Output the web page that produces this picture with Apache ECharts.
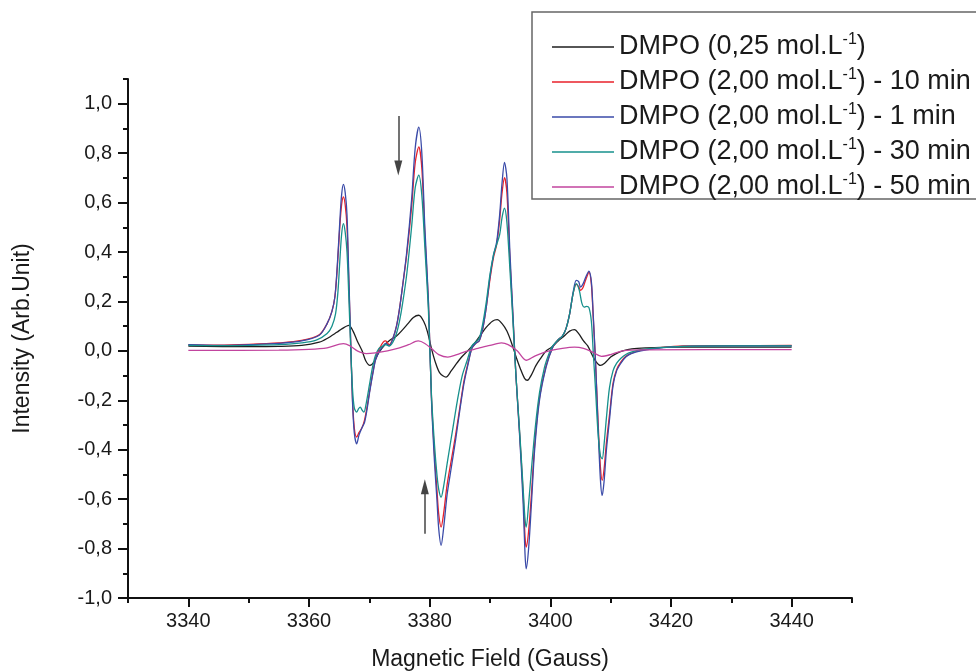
<!DOCTYPE html>
<html>
<head>
<meta charset="utf-8">
<script src="https://cdn.jsdelivr.net/npm/echarts@6/dist/echarts.min.js"></script>
<style>html,body{margin:0;padding:0;background:#fff}#c{width:976px;height:671px}</style>
</head>
<body>
<div id="c"></div>
<script>
// ---- data (Magnetic field in Gauss, intensity in arb. units) ----
const seriesNames = [
  'DMPO (0,25 mol.L-1)',
  'DMPO (2,00 mol.L-1) - 10 min',
  'DMPO (2,00 mol.L-1) - 1 min',
  'DMPO (2,00 mol.L-1) - 30 min',
  'DMPO (2,00 mol.L-1) - 50 min'
];
const xTickLabels = [3340, 3360, 3380, 3400, 3420, 3440];
const yTickLabels = [-1.0, -0.8, -0.6, -0.4, -0.2, 0.0, 0.2, 0.4, 0.6, 0.8, 1.0];

const dmpo025 = [[3340,0.019],[3350,0.017],[3355,0.018],[3358.8,0.022],[3361.7,0.035],[3363.0,0.05],[3364.6,0.075],[3365.5,0.09],[3366.6,0.103],[3367.3,0.08],[3368.0,0.04],[3368.8,0.0],[3369.4,-0.04],[3370.1,-0.059],[3370.8,-0.045],[3371.5,-0.01],[3372.6,0.025],[3373.5,0.045],[3374.5,0.06],[3375.5,0.085],[3376.4,0.11],[3377.3,0.135],[3378.2,0.144],[3379.0,0.12],[3379.6,0.08],[3380.4,0.0],[3381.0,-0.05],[3381.7,-0.09],[3382.7,-0.106],[3383.6,-0.08],[3384.5,-0.05],[3385.3,-0.025],[3386.3,0.0],[3387.4,0.03],[3388.6,0.07],[3389.4,0.096],[3390.4,0.12],[3391.2,0.126],[3392.0,0.11],[3392.8,0.08],[3393.6,0.03],[3394.4,-0.03],[3395.0,-0.07],[3395.7,-0.11],[3396.2,-0.119],[3396.8,-0.1],[3397.6,-0.06],[3398.4,-0.03],[3399.3,0.0],[3400.2,0.015],[3401.3,0.04],[3402.3,0.06],[3403.2,0.08],[3404.0,0.086],[3404.7,0.07],[3405.5,0.04],[3406.2,0.02],[3407.0,-0.02],[3407.6,-0.045],[3408.3,-0.059],[3409.0,-0.05],[3410.0,-0.025],[3411.0,-0.01],[3412.0,0.0],[3413.5,0.008],[3416,0.012],[3420,0.015],[3430,0.015],[3440,0.015]];

const dmpo200_10 = [[3340,0.024],[3345,0.023],[3350,0.026],[3355,0.032],[3358.8,0.042],[3361.7,0.065],[3363.0,0.11],[3363.8,0.16],[3364.3,0.22],[3364.7,0.34],[3365.1,0.50],[3365.4,0.59],[3365.7,0.623],[3366.0,0.59],[3366.3,0.50],[3366.6,0.28],[3366.9,0.04],[3367.2,-0.19],[3367.5,-0.31],[3367.9,-0.349],[3368.3,-0.33],[3368.8,-0.31],[3369.2,-0.28],[3369.6,-0.23],[3370.1,-0.155],[3370.6,-0.085],[3371.1,-0.025],[3371.7,0.01],[3372.3,0.035],[3372.7,0.04],[3373.3,0.025],[3373.9,0.05],[3374.5,0.10],[3375.0,0.17],[3375.5,0.26],[3376.2,0.39],[3377.0,0.58],[3377.6,0.76],[3378.2,0.825],[3378.7,0.74],[3379.2,0.47],[3379.8,0.19],[3380.3,-0.19],[3380.8,-0.42],[3381.2,-0.56],[3381.5,-0.66],[3381.9,-0.713],[3382.3,-0.66],[3382.9,-0.54],[3383.6,-0.44],[3384.3,-0.34],[3385.0,-0.23],[3385.7,-0.12],[3386.4,-0.045],[3387.0,0.01],[3387.6,0.03],[3388.2,0.04],[3388.8,0.09],[3389.4,0.18],[3390.0,0.29],[3390.6,0.38],[3391.1,0.43],[3391.6,0.53],[3392.0,0.64],[3392.4,0.701],[3392.8,0.64],[3393.3,0.37],[3393.8,0.14],[3394.3,-0.10],[3394.9,-0.33],[3395.5,-0.58],[3395.8,-0.75],[3396.0,-0.794],[3396.4,-0.73],[3396.9,-0.57],[3397.4,-0.38],[3398.2,-0.19],[3399.3,-0.06],[3400.4,0.015],[3401.3,0.045],[3402.0,0.06],[3402.6,0.09],[3403.2,0.15],[3403.8,0.235],[3404.3,0.269],[3404.7,0.26],[3405.0,0.245],[3405.4,0.255],[3405.9,0.29],[3406.4,0.318],[3406.8,0.27],[3407.1,0.14],[3407.5,-0.05],[3407.9,-0.28],[3408.3,-0.47],[3408.6,-0.524],[3408.9,-0.48],[3409.3,-0.37],[3409.8,-0.26],[3410.4,-0.13],[3411.0,-0.075],[3411.7,-0.045],[3412.5,-0.022],[3413.4,-0.01],[3415.0,0.002],[3418.3,0.013],[3422,0.02],[3430,0.021],[3440,0.022]];

const dmpo200_1 = [[3340,0.025],[3345,0.022],[3350,0.025],[3355,0.030],[3358.8,0.040],[3361.7,0.063],[3363.0,0.11],[3363.8,0.16],[3364.3,0.22],[3364.7,0.35],[3365.1,0.52],[3365.4,0.63],[3365.7,0.674],[3366.0,0.64],[3366.3,0.55],[3366.6,0.30],[3366.9,0.05],[3367.2,-0.20],[3367.5,-0.33],[3367.9,-0.376],[3368.3,-0.34],[3368.8,-0.31],[3369.2,-0.29],[3369.6,-0.24],[3370.1,-0.16],[3370.6,-0.09],[3371.1,-0.03],[3371.7,0.0],[3372.3,0.02],[3372.7,0.03],[3373.3,0.02],[3373.9,0.05],[3374.5,0.10],[3375.0,0.17],[3375.5,0.26],[3376.2,0.40],[3377.0,0.61],[3377.6,0.82],[3378.2,0.905],[3378.7,0.80],[3379.2,0.50],[3379.8,0.20],[3380.3,-0.20],[3380.8,-0.45],[3381.2,-0.60],[3381.5,-0.72],[3381.9,-0.787],[3382.3,-0.72],[3382.9,-0.58],[3383.6,-0.47],[3384.3,-0.36],[3385.0,-0.24],[3385.7,-0.13],[3386.4,-0.05],[3387.0,0.01],[3387.6,0.03],[3388.2,0.04],[3388.8,0.09],[3389.4,0.18],[3390.0,0.30],[3390.6,0.39],[3391.1,0.44],[3391.6,0.55],[3392.0,0.68],[3392.4,0.763],[3392.8,0.70],[3393.3,0.40],[3393.8,0.15],[3394.3,-0.10],[3394.9,-0.34],[3395.5,-0.62],[3395.8,-0.82],[3396.0,-0.882],[3396.4,-0.80],[3396.9,-0.605],[3397.4,-0.40],[3398.2,-0.20],[3399.3,-0.066],[3400.4,0.015],[3401.3,0.045],[3402.0,0.06],[3402.6,0.09],[3403.2,0.15],[3403.8,0.24],[3404.3,0.285],[3404.7,0.28],[3405.0,0.258],[3405.4,0.27],[3405.9,0.30],[3406.4,0.323],[3406.8,0.28],[3407.1,0.15],[3407.5,-0.05],[3407.9,-0.30],[3408.3,-0.52],[3408.6,-0.585],[3408.9,-0.53],[3409.3,-0.40],[3409.8,-0.28],[3410.4,-0.14],[3411.0,-0.08],[3411.7,-0.05],[3412.5,-0.025],[3413.4,-0.011],[3415.0,0.0],[3418.3,0.012],[3422,0.018],[3430,0.02],[3440,0.02]];

const dmpo200_30 = [[3340,0.022],[3345,0.021],[3350,0.022],[3355,0.025],[3358.8,0.032],[3361.2,0.043],[3363.0,0.07],[3363.8,0.10],[3364.4,0.15],[3364.8,0.24],[3365.1,0.36],[3365.4,0.47],[3365.7,0.515],[3366.0,0.48],[3366.3,0.40],[3366.6,0.22],[3366.9,0.02],[3367.2,-0.15],[3367.5,-0.23],[3367.9,-0.248],[3368.2,-0.235],[3368.5,-0.228],[3368.8,-0.24],[3369.1,-0.248],[3369.5,-0.21],[3370.0,-0.14],[3370.5,-0.07],[3371.0,-0.02],[3371.6,0.01],[3372.3,0.02],[3372.7,0.025],[3373.3,0.02],[3373.9,0.035],[3374.5,0.07],[3375.0,0.12],[3375.5,0.19],[3376.2,0.31],[3377.0,0.50],[3377.6,0.66],[3378.2,0.711],[3378.7,0.63],[3379.2,0.42],[3379.8,0.16],[3380.3,-0.18],[3380.8,-0.38],[3381.2,-0.50],[3381.5,-0.56],[3381.9,-0.592],[3382.3,-0.55],[3383.0,-0.44],[3383.8,-0.32],[3384.6,-0.2],[3385.4,-0.1],[3386.2,-0.04],[3387.0,0.02],[3387.6,0.035],[3388.2,0.05],[3388.8,0.11],[3389.4,0.20],[3390.0,0.31],[3390.6,0.39],[3391.1,0.43],[3391.6,0.47],[3392.0,0.54],[3392.4,0.577],[3392.8,0.52],[3393.3,0.33],[3393.8,0.12],[3394.3,-0.10],[3394.9,-0.32],[3395.5,-0.56],[3395.8,-0.68],[3396.0,-0.713],[3396.4,-0.62],[3396.9,-0.47],[3397.5,-0.31],[3398.2,-0.17],[3399.0,-0.07],[3399.8,-0.01],[3400.4,0.02],[3401.3,0.045],[3402.0,0.06],[3402.6,0.09],[3403.2,0.15],[3403.8,0.235],[3404.3,0.272],[3404.8,0.245],[3405.2,0.195],[3405.6,0.177],[3406.0,0.18],[3406.4,0.175],[3406.8,0.12],[3407.1,0.0],[3407.5,-0.16],[3407.9,-0.33],[3408.3,-0.425],[3408.6,-0.437],[3408.9,-0.38],[3409.3,-0.27],[3409.8,-0.15],[3410.4,-0.08],[3411.0,-0.05],[3411.7,-0.03],[3412.5,-0.015],[3413.4,-0.005],[3415.0,0.005],[3418.3,0.013],[3422,0.018],[3430,0.02],[3440,0.02]];

const dmpo200_50 = [[3340,0.002],[3355,0.003],[3360,0.006],[3363,0.012],[3365.7,0.029],[3366.8,0.02],[3368,0.0],[3369.5,-0.011],[3371,-0.008],[3373,0.0],[3375,0.012],[3376.5,0.025],[3378.1,0.04],[3379.2,0.03],[3380.5,0.005],[3381.5,-0.015],[3383.0,-0.025],[3384.5,-0.015],[3386,-0.002],[3388,0.01],[3390,0.022],[3391.9,0.032],[3393,0.025],[3394.5,0.0],[3396.0,-0.038],[3397.5,-0.02],[3399.5,-0.002],[3402,0.01],[3404,0.015],[3405.5,0.01],[3407,-0.005],[3408.5,-0.022],[3410,-0.015],[3412,0.0],[3415,0.004],[3440,0.005]];

// annotation arrows [x, yStart, yEnd]
const arrowDown = [3374.8, 0.95, 0.74];
const arrowUp = [3379.2, -0.74, -0.55];

const seriesData = [dmpo025, dmpo200_10, dmpo200_1, dmpo200_30, dmpo200_50];
const colors = ['#1e1e1e', '#e8202a', '#3a4aa8', '#16908c', '#c2449e'];

const FONT = '"Liberation Sans", Arial, sans-serif';
const chart = echarts.init(document.getElementById('c'), null, {renderer: 'canvas'});

const fmtY = v => (Math.round(v * 10) / 10).toFixed(1).replace('.', ',');
const fmtX = v => String(Math.round(v));

const series = seriesData.map((d, i) => ({
  name: seriesNames[i],
  type: 'line',
  data: d,
  xAxisIndex: 0,
  yAxisIndex: 0,
  showSymbol: false,
  symbol: 'none',
  smooth: 0.3,
  lineStyle: {width: 1.3, color: colors[i]},
  itemStyle: {color: colors[i]},
  z: 2 + i
}));
series[0].markLine = {
  silent: true,
  symbol: ['none', 'triangle'],
  symbolSize: [8, 15],
  label: {show: false},
  lineStyle: {color: '#444', width: 1.5, type: 'solid'},
  data: [
    [{coord: [arrowDown[0], arrowDown[1]]}, {coord: [arrowDown[0], arrowDown[2]]}],
    [{coord: [arrowUp[0], arrowUp[1]]}, {coord: [arrowUp[0], arrowUp[2]]}]
  ]
};

const option = {
  animation: false,
  backgroundColor: '#ffffff',
  textStyle: {fontFamily: FONT},
  grid: {left: 128, right: 124, top: 79, bottom: 73, containLabel: false, outerBoundsMode: 'none'},
  xAxis: [{
    type: 'value', min: 3330, max: 3450, interval: 20,
    name: 'Magnetic Field (Gauss)', nameLocation: 'middle', nameGap: 50,
    nameTextStyle: {fontSize: 23, color: '#1a1a1a', fontFamily: FONT},
    axisLine: {show: true, onZero: false, lineStyle: {color: '#111', width: 2}},
    axisTick: {show: true, inside: false, length: 9, lineStyle: {color: '#111', width: 2}, customValues: xTickLabels},
    axisLabel: {show: true, margin: 13, fontSize: 20, color: '#1a1a1a', fontFamily: FONT, customValues: xTickLabels, formatter: fmtX},
    splitLine: {show: false}
  }, {
    type: 'value', min: 3330, max: 3450, interval: 10, position: 'bottom',
    axisLine: {show: false, onZero: false},
    axisTick: {show: true, inside: false, length: 5, lineStyle: {color: '#111', width: 2}},
    axisLabel: {show: false}, splitLine: {show: false}
  }],
  yAxis: [{
    type: 'value', min: -1.0, max: 1.1, interval: 0.2,
    name: 'Intensity (Arb.Unit)', nameLocation: 'middle', nameGap: 94, nameRotate: 90,
    nameTextStyle: {fontSize: 23, color: '#1a1a1a', fontFamily: FONT},
    axisLine: {show: true, onZero: false, lineStyle: {color: '#111', width: 2}},
    axisTick: {show: true, inside: false, length: 10, lineStyle: {color: '#111', width: 2}, customValues: yTickLabels},
    axisLabel: {show: true, margin: 16, fontSize: 20, color: '#1a1a1a', fontFamily: FONT, customValues: yTickLabels, formatter: fmtY},
    splitLine: {show: false}
  }, {
    type: 'value', min: -1.0, max: 1.1, interval: 0.1, position: 'left',
    axisLine: {show: false, onZero: false},
    axisTick: {show: true, inside: false, length: 5, lineStyle: {color: '#111', width: 2}},
    axisLabel: {show: false}, splitLine: {show: false}
  }],
  legend: {
    show: true, orient: 'vertical', left: 552, top: 32,
    itemWidth: 62, itemHeight: 1.5, itemGap: 6.5, icon: 'rect',
    padding: 0,
    data: seriesNames,
    formatter: name => '{a|' + name.replace('L-1)', 'L}{s|-1}{a|)') + '}',
    textStyle: {
      fontFamily: FONT, color: '#1a1a1a',
      rich: {
        a: {fontSize: 27, lineHeight: 30, fontFamily: FONT, color: '#1a1a1a'},
        s: {fontSize: 16, lineHeight: 16, verticalAlign: 'top', fontFamily: FONT, color: '#1a1a1a'}
      }
    }
  },
  graphic: [{
    type: 'rect', silent: true,
    shape: {x: 532, y: 12, width: 470, height: 187},
    style: {fill: 'none', stroke: '#666', lineWidth: 1.5}
  }],
  series: series
};
chart.setOption(option);
</script>
</body>
</html>
